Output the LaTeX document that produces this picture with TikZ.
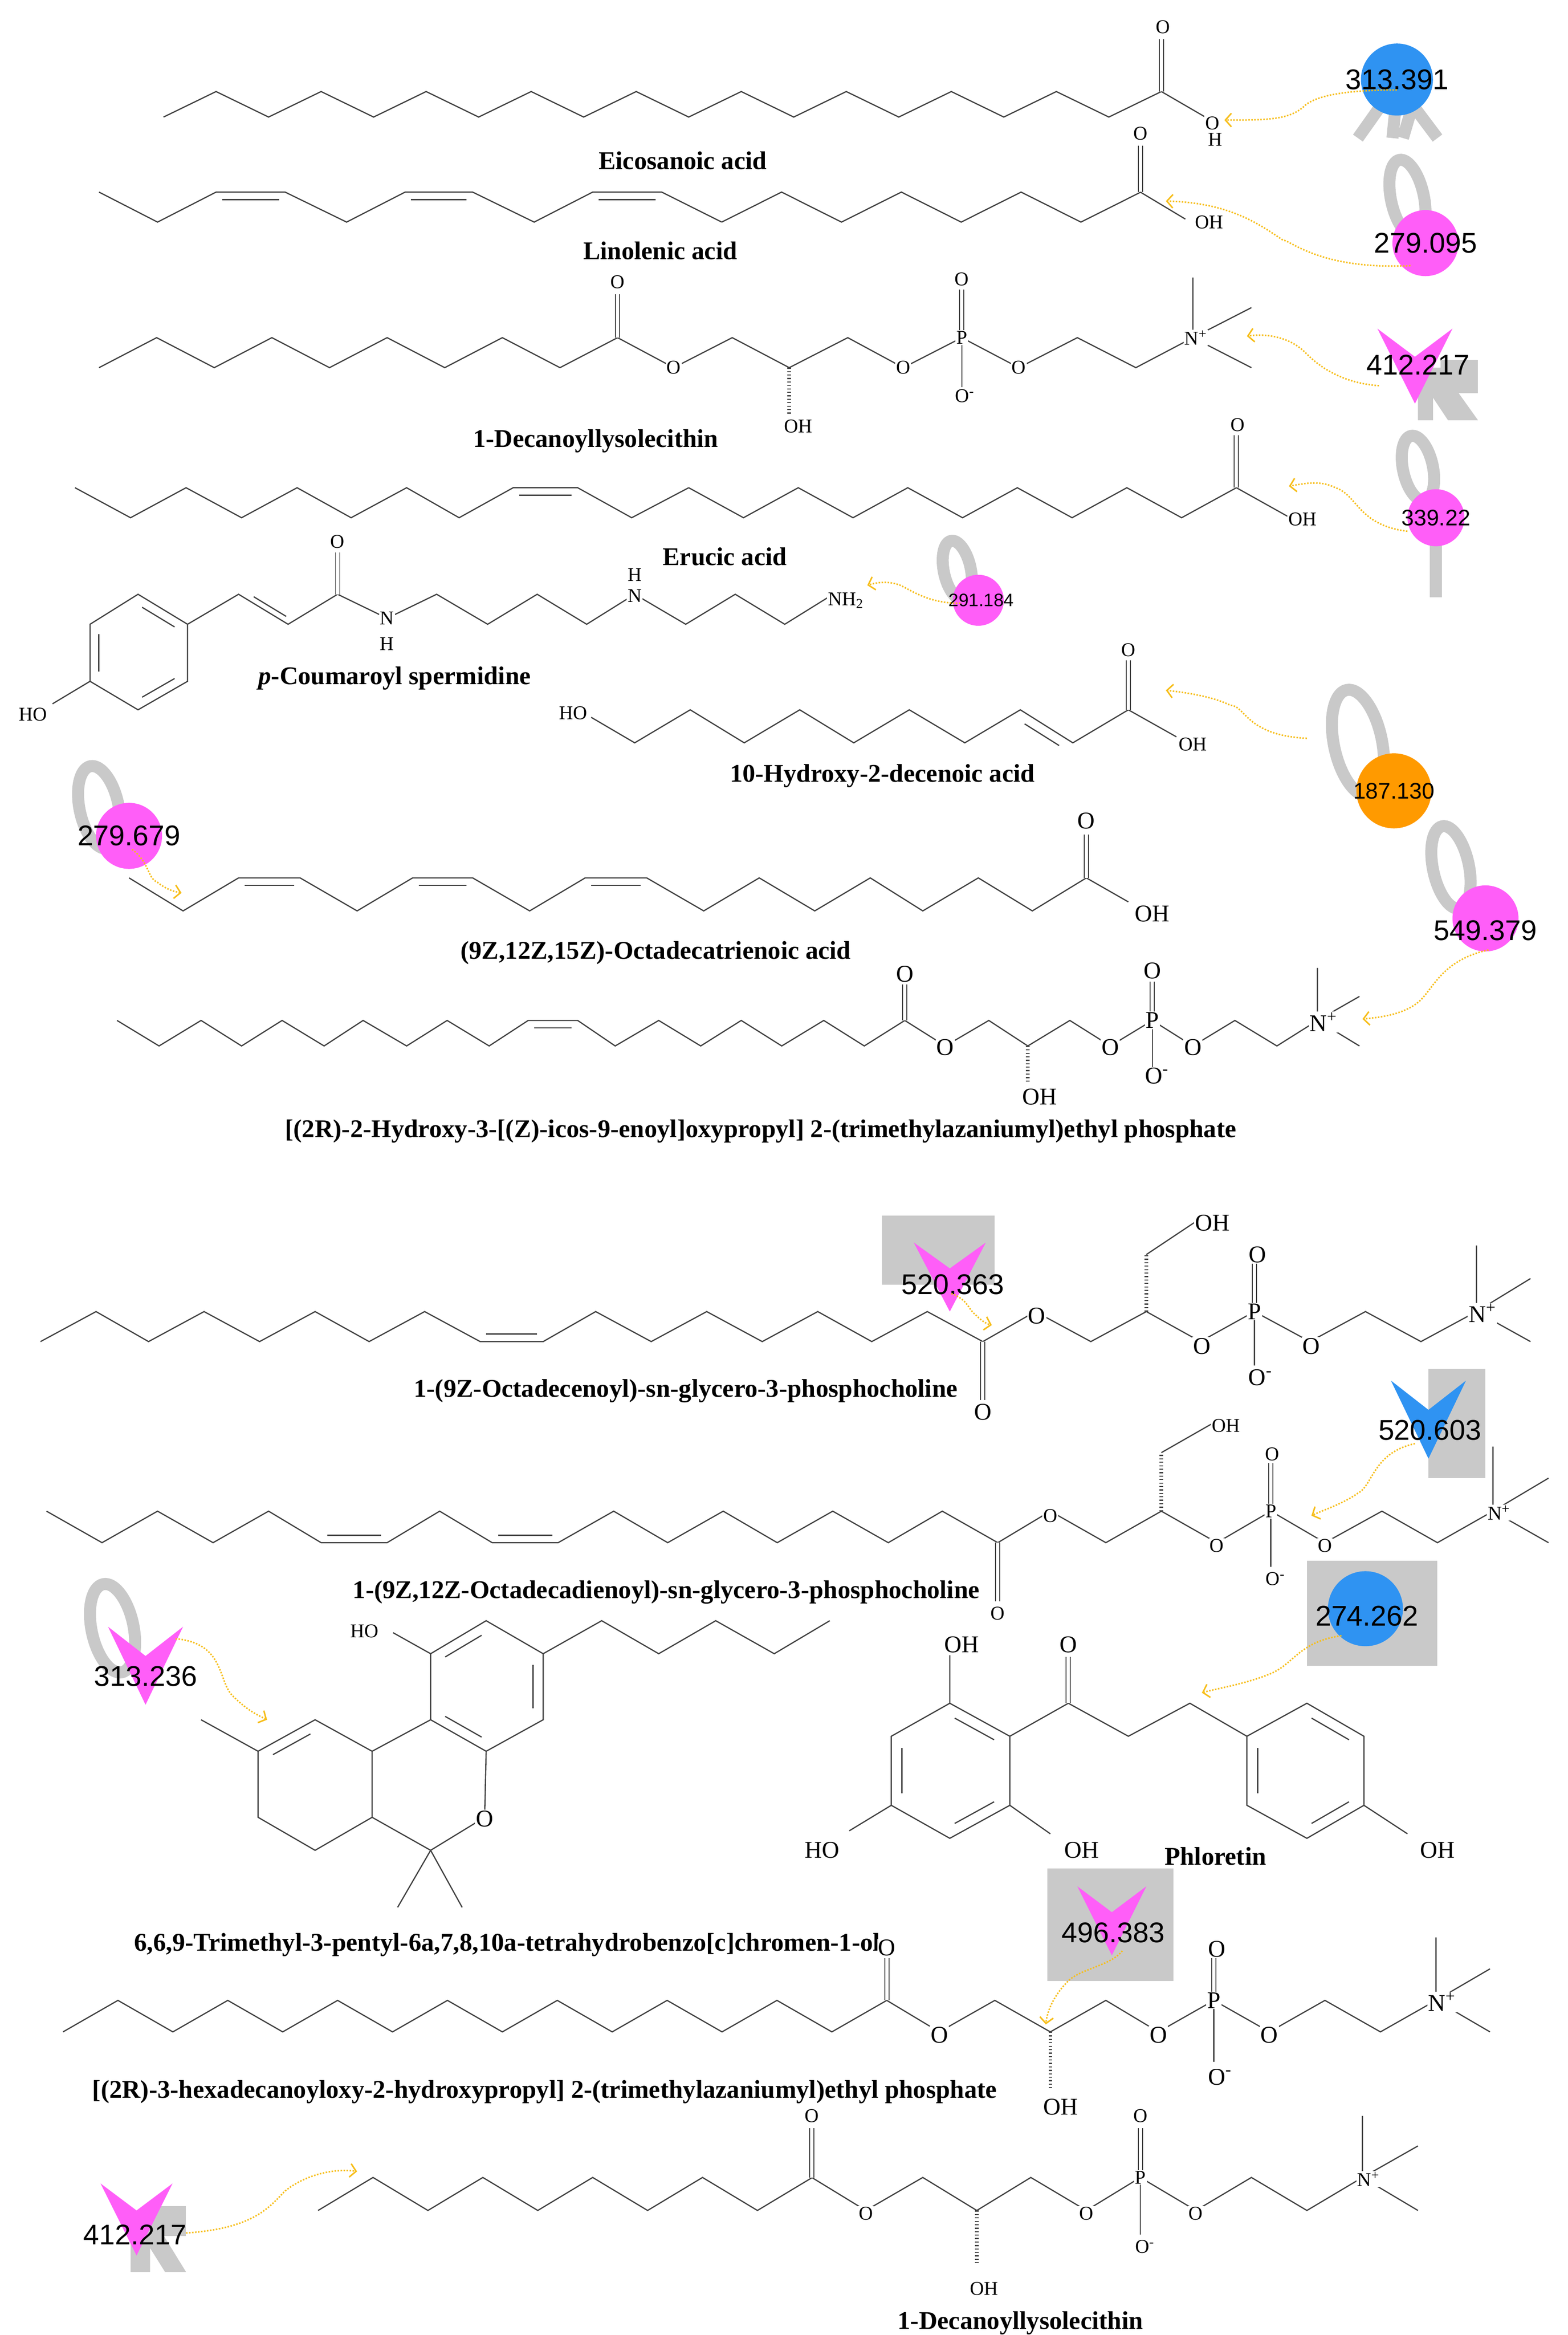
\documentclass[tikz,border=0pt]{standalone}
\usepackage{fontspec}
\setmainfont{Liberation Serif}
\newfontfamily\sansf{Liberation Sans}
\usetikzlibrary{calc,arrows.meta}
\definecolor{mag}{HTML}{FF5EF8}
\definecolor{blu}{HTML}{2F93F2}
\definecolor{org}{HTML}{FF9A00}
\definecolor{gly}{HTML}{C9C9C9}
\definecolor{hlc}{HTML}{F7BE1A}
\tikzset{
 bond/.style={draw=black!75,line width=0.8pt,line join=miter},
 dbl/.style={bond,double,double distance=2.2pt,line width=0.6pt},
 hash/.style={draw=black!75,line width=2.4pt,dash pattern=on 0.7pt off 1.6pt},
 atl/.style={fill=white,inner sep=0.6pt,font=\fontsize{13}{13}\selectfont},
 atlb/.style={atl,font=\fontsize{16}{16}\selectfont},
 nm/.style={font=\bfseries\fontsize{17}{17}\selectfont,inner sep=0pt},
 num/.style={font=\sansf\fontsize{19}{19}\selectfont,inner sep=0pt},
 gl/.style={draw=gly,line width=8pt},
 hl/.style={draw=hlc,line width=1pt,densely dotted,-{Straight Barb[length=4pt,width=9pt]}}
}
\newcommand\zz[5]{\draw[bond] (#1,#2) \foreach \i in {1,...,#5}{ -- ++(#3,{#4*(1-2*mod(\i+1,2))})};}
\newcommand\hdb[4]{\draw[bond] ({#1+4},{#3+#4}) -- ({#2-4},{#3+#4});}
\newcommand\rin[3]{\path ($(#1)!0.18!(#3)$) coordinate (ra) ($(#2)!0.18!(#3)$) coordinate (rb); \draw[bond] ($(ra)!0.1!(rb)$) -- ($(rb)!0.1!(ra)$);}
\newcommand\chev[5]{\fill[#5] ({#1-#3/2},{#2-#4/2}) -- (#1,{#2-#4/8}) -- ({#1+#3/2},{#2-#4/2}) -- (#1,{#2+#4/2}) -- cycle;}
\newcommand\gloop[4]{\draw[gl,rotate around={12:(#1,#2)}] (#1,#2) ellipse (#3 and #4);}
\newcommand\Om{O\textsuperscript{-}}
\newcommand\Np{N\textsuperscript{+}}
\begin{document}
\begin{tikzpicture}[x=1pt,y=-1pt]
\useasboundingbox[fill=white] (0,0) rectangle (1045,1556);

% ---------- 1 Eicosanoic acid
\zz{109}{78}{35}{-17}{19}
\draw[dbl] (774,61)--(774,26); \draw[bond] (774,61)--(805,79);
\node[atl] (m1o) at (775,18) {O}; \node[atl] (m1oh) at (808,82) {O}; \node[atl] at (810,93) {H};
\node[nm] (n1) at (455,107) {Eicosanoic acid};
\draw[gl] (905,92)--(922,68) (958,92)--(940,68) (928,92)--(930,72) (935,92)--(940,75);
\fill[blu] (931,53) circle (24);
\node[num] (b1) at (931,53) {313.391};
\coordinate (t1) at (816,80);
\draw[hl] (b1.south) .. controls (905,60) and (880,62) .. (870,70) .. controls (860,80) and (845,80) .. (t1);

% ---------- 2 Linolenic acid
\draw[bond] (66,128)--(105,148)--(144,128)--(190,128)--(231,148)--(270,128)--(315,128)--(356,148)--(395,128)--(441,128)--(481,148);
\zz{481}{148}{39.9}{-20}{7}
\hdb{144}{190}{128}{5} \hdb{270}{315}{128}{5} \hdb{395}{441}{128}{5}
\draw[dbl] (760,128)--(760,97); \draw[bond] (760,128)--(790,146);
\node[atl] at (760,89) {O}; \node[atl] at (806,148) {OH};
\node[nm] (n2) at (440,167) {Linolenic acid};
\gloop{938}{132}{11}{26}
\fill[mag] (950,162) circle (22);
\node[num] (b2) at (950,162) {279.095};
\coordinate (t2) at (777,134);
\draw[hl] (940,177) .. controls (880,180) and (860,160) .. (855,160) .. controls (840,150) and (820,135) .. (t2);

% ---------- 3 1-Decanoyllysolecithin
\zz{66}{245}{38.4}{-20}{9}
\draw[bond] (411.6,225)--(449,245)--(488,225)--(526,245)--(565,225)--(602,245)--(641,225)--(679,245)--(718,225)--(757,245)--(795,225);
\draw[dbl] (411.6,225)--(411.6,196); \draw[dbl] (641,225)--(641,193); \draw[bond] (641,225)--(641,258);
\draw[hash] (526,245)--(526,276);
\draw[bond] (795,225)--(795,185) (795,225)--(834,205) (795,225)--(834,245);
\node[atl] at (411.6,188) {O}; \node[atl] at (449,245) {O}; \node[atl] at (602,245) {O}; \node[atl] at (641,225) {P};
\node[atl] at (679,245) {O}; \node[atl] at (641,186) {O}; \node[atl] at (643,264) {\Om};
\node[atl] at (532,284) {OH}; \node[atl] at (797,225) {\Np};
\node[nm] (n3) at (397,294) {1-Decanoyllysolecithin};
\fill[gly] (945,245)--(960,245)--(985,280)--(965,280)--(955,265)--(955,280)--(945,280)--cycle;
\fill[gly] (960,240) rectangle (985,262);
\chev{943}{244}{50}{50}{mag}
\node[num] (b3) at (945,243) {412.217};
\coordinate (t3) at (831,224);
\draw[hl] (919,257) .. controls (890,255) and (875,240) .. (870,235) .. controls (860,225) and (845,222) .. (t3);

% ---------- 4 Erucic acid
\draw[bond] (50,325)--(87,345)--(124,325)--(161,345)--(198,325)--(234,345)--(271,325)--(306,345)--(342,325)--(385,325)--(421,345)--(459,325);
\zz{459}{325}{36.5}{20}{10}
\hdb{342}{385}{325}{5}
\draw[dbl] (824,325)--(824,290); \draw[bond] (824,325)--(858,344);
\node[atl] at (825,283) {O}; \node[atl] at (868,346) {OH};
\node[nm] (n4) at (483,371) {Erucic acid};
\gloop{945}{312}{10}{22}
\draw[gl] (957,360)--(957,398);
\fill[mag] (957,345) circle (19);
\node[num,font=\sansf\fontsize{15}{15}\selectfont] (b4) at (957,345) {339.22};
\coordinate (t4) at (859,324);
\draw[hl] (938,354) .. controls (905,350) and (905,330) .. (890,325) .. controls (880,320) and (870,322) .. (t4);

% ---------- 5 p-Coumaroyl spermidine
\draw[bond] (92,396)--(125,416)--(125,454)--(92,473)--(60,454)--(60,416)--cycle;
\rin{92,396}{125,416}{92,435} \rin{125,454}{92,473}{92,435} \rin{60,416}{60,454}{92,435}
\draw[bond] (60,454)--(35,469);
\draw[bond] (125,416)--(159,396)--(192,416)--(225,396)--(258,412)--(291,396)--(325,416)--(358,396)--(391,416)--(423,396)--(457,416)--(490,396)--(523,416)--(552,398);
\rin{159,396}{192,416}{200,396}
\draw[dbl] (225,396)--(225,368);
\node[atl] at (22,476) {HO}; \node[atl] at (225,361) {O};
\node[atl] at (258,412) {N}; \node[atl] at (258,429) {H};
\node[atl] at (423,397) {N}; \node[atl] at (423,383) {H};
\node[atl,anchor=west] at (551,400) {NH\textsubscript{2}};
\node[nm] (n5) at (263,452) {\textit{p}-Coumaroyl spermidine};
\gloop{638}{380}{9}{20}
\fill[mag] (652,400) circle (17);
\node[num,font=\sansf\fontsize{12}{12}\selectfont] (b5) at (654,400) {291.184};
\coordinate (t5) at (578,390);
\draw[hl] (640,402) .. controls (620,402) and (610,395) .. (600,390) .. controls (592,387) and (585,388) .. (t5);

% ---------- 6 10-Hydroxy-2-decenoic acid
\draw[bond] (394,478)--(423,495)--(460,473)--(496,495)--(533,473)--(569,495)--(606,473)--(643,495)--(680,473)--(715,495)--(752,473)--(784,491);
\rin{680,473}{715,495}{680,515}
\draw[dbl] (752,473)--(752,440);
\node[atl] at (382,475) {HO}; \node[atl] at (752,433) {O}; \node[atl] at (795,496) {OH};
\node[nm] (n6) at (588,517) {10-Hydroxy-2-decenoic acid};
\gloop{905}{495}{16}{36}
\fill[org] (929,527) circle (25);
\node[num,font=\sansf\fontsize{15}{15}\selectfont] (b6) at (929,527) {187.130};
\coordinate (t6) at (777,460);
\draw[hl] (871,492) .. controls (830,490) and (830,470) .. (820,470) .. controls (810,465) and (795,462) .. (t6);

% ---------- 7 Octadecatrienoic acid
\draw[bond] (86,585)--(122,607)--(159,585)--(200,585)--(238,607)--(275,585)--(315,585)--(353,607)--(390,585)--(431,585)--(469,607)--(506,585)--(543,607)--(580,585)--(615,607)--(652,585)--(688,607)--(724,585)--(752,601);
\hdb{159}{200}{585}{5} \hdb{275}{315}{585}{5} \hdb{390}{431}{585}{5}
\draw[dbl] (724,585)--(724,556);
\node[atlb] at (724,547) {O}; \node[atlb] at (768,609) {OH};
\node[nm] (n7) at (437,635) {(9Z,12Z,15Z)-Octadecatrienoic acid};
\gloop{66}{538}{13}{28}
\fill[mag] (86,557) circle (22);
\node[num] (b7) at (86,557) {279.679};
\coordinate (t7) at (121,595);
\draw[hl] (88,566) .. controls (100,575) and (98,585) .. (105,588) .. controls (110,592) and (115,594) .. (t7);

% ---------- 8 icos-9-enoyl PC
\draw[bond] (78,680)--(106,697)--(134,680)--(161,697)--(188,680)--(216,697)--(242,680)--(271,697)--(298,680)--(326,697)--(352,680)--(385,680)--(410,697)--(439,680)--(467,697)--(494,680)--(521,697)--(549,680)--(576,697)--(603,680)--(630,697)--(659,680)--(685,697)--(713,680)--(740,697)--(768,680)--(795,697)--(823,680)--(851,697)--(878,680);
\hdb{352}{385}{680}{5}
\draw[dbl] (603,680)--(603,656); \draw[dbl] (768,680)--(768,654); \draw[bond] (768,680)--(768,712);
\draw[hash] (685,697)--(685,722);
\draw[bond] (878,680)--(878,645) (878,680)--(906,664) (878,680)--(906,697);
\node[atlb] at (603,649) {O}; \node[atlb] at (630,698) {O}; \node[atlb] at (740,698) {O}; \node[atlb] at (768,680) {P};
\node[atlb] at (795,698) {O}; \node[atlb] at (768,647) {O}; \node[atlb] at (771,717) {\Om};
\node[atlb] at (693,731) {OH}; \node[atlb] at (882,681) {\Np};
\node[nm] (n8) at (507,754) {[(2R)-2-Hydroxy-3-[(Z)-icos-9-enoyl]oxypropyl] 2-(trimethylazaniumyl)ethyl phosphate};
\gloop{967}{578}{12}{28}
\fill[mag] (990,612) circle (22);
\node[num] (b8) at (990,620) {549.379};
\coordinate (t8) at (908,679);
\draw[hl] (992,633) .. controls (960,640) and (955,660) .. (945,668) .. controls (935,676) and (920,678) .. (t8);

% ---------- 9 1-(9Z-Octadecenoyl)-sn-glycero-3-phosphocholine
\draw[bond] (27,894)--(64,874)--(99,894)--(136,874)--(173,894)--(210,874)--(246,894)--(283,874)--(320,894)--(362,894)--(397,874)--(434,894)--(471,874)--(508,894)--(545,874)--(581,894)--(618,874)--(655,894)--(690,874)--(727,894)--(764,874)--(800,894)--(836,874)--(873,894)--(910,874)--(947,894)--(984,874);
\hdb{320}{362}{894}{-5}
\draw[dbl] (655,894)--(655,933);
\draw[hash] (764,874)--(764,836); \draw[bond] (764,836)--(800,812);
\draw[dbl] (836,874)--(836,842); \draw[bond] (836,874)--(836,910);
\draw[bond] (984,874)--(984,830) (984,874)--(1020,852) (984,874)--(1020,894);
\node[atlb] at (655,941) {O}; \node[atlb] at (691,877) {O}; \node[atlb] at (801,897) {O}; \node[atlb] at (836,874) {P};
\node[atlb] at (874,897) {O}; \node[atlb] at (838,836) {O}; \node[atlb] at (840,918) {\Om};
\node[atlb] at (808,815) {OH}; \node[atlb] at (988,875) {\Np};
\node[nm] (n9) at (457,927) {1-(9Z-Octadecenoyl)-sn-glycero-3-phosphocholine};
\fill[gly] (588,810) rectangle (663,856);
\chev{633}{851}{48}{46}{mag}
\node[num] (b9) at (635,856) {520.363};
\coordinate (t9) at (661,883);
\draw[hl] (634,862) .. controls (645,866) and (645,872) .. (650,876) .. controls (654,880) and (657,882) .. (t9);

% ---------- 10 1-(9Z,12Z-Octadecadienoyl)-sn-glycero-3-phosphocholine
\draw[bond] (31,1007)--(68,1028)--(105,1007)--(142,1028)--(179,1007)--(214,1028)--(258,1028)--(293,1007)--(328,1028)--(372,1028)--(409,1007)--(445,1028)--(482,1007)--(518,1028)--(555,1007)--(592,1028)--(628,1007)--(665,1028)--(700,1007)--(737,1028)--(774,1007)--(811,1028)--(847,1007)--(883,1028)--(921,1007)--(958,1028)--(995,1007);
\hdb{214}{258}{1028}{-5} \hdb{328}{372}{1028}{-5}
\draw[dbl] (665,1028)--(665,1067);
\draw[hash] (774,1007)--(774,968); \draw[bond] (774,968)--(809,948);
\draw[dbl] (847,1007)--(847,975); \draw[bond] (847,1007)--(847,1044);
\draw[bond] (995,1007)--(995,964) (995,1007)--(1032,985) (995,1007)--(1032,1028);
\node[atl] at (665,1075) {O}; \node[atl] at (700,1010) {O}; \node[atl] at (811,1030) {O}; \node[atl] at (847,1007) {P};
\node[atl] at (883,1030) {O}; \node[atl] at (848,969) {O}; \node[atl] at (850,1052) {\Om};
\node[atl] at (817,950) {OH}; \node[atl] at (999,1008) {\Np};
\node[nm] (n10) at (444,1061) {1-(9Z,12Z-Octadecadienoyl)-sn-glycero-3-phosphocholine};
\fill[gly] (952,912) rectangle (990,985);
\chev{952}{946}{50}{52}{blu}
\node[num] (b10) at (953,953) {520.603};
\coordinate (t10) at (874,1010);
\draw[hl] (943,962) .. controls (915,968) and (915,990) .. (905,995) .. controls (895,1002) and (885,1005) .. (t10);

% ---------- 11 THC-like
\draw[bond] (324,1080)--(362,1102)--(362,1146)--(324,1167)--(287,1146)--(287,1102)--cycle;
\rin{287,1102}{324,1080}{324,1124} \rin{362,1102}{362,1146}{324,1124} \rin{287,1146}{324,1167}{324,1124}
\draw[bond] (287,1102)--(262,1088);
\draw[bond] (362,1102)--(401,1080)--(439,1102)--(477,1080)--(516,1102)--(553,1080);
\draw[bond] (287,1146)--(248,1167)--(248,1211)--(210,1233)--(172,1211)--(172,1167)--(210,1146)--(248,1167);
\rin{172,1167}{210,1146}{210,1189}
\draw[bond] (172,1167)--(134,1146);
\draw[bond] (248,1211)--(287,1233)--(323,1211)--(324,1167);
\draw[bond] (287,1233)--(265,1271) (287,1233)--(308,1271);
\node[atl] at (243,1087) {HO}; \node[atlb] at (323,1212) {O};
\node[nm] (n11) at (338,1296) {6,6,9-Trimethyl-3-pentyl-6a,7,8,10a-tetrahydrobenzo[c]chromen-1-ol};
\gloop{75}{1085}{14}{30}
\chev{97}{1110}{50}{52}{mag}
\node[num] (b11) at (97,1117) {313.236};
\coordinate (t11) at (178,1146);
\draw[hl] (117,1092) .. controls (150,1095) and (145,1120) .. (155,1130) .. controls (165,1140) and (172,1143) .. (t11);

% ---------- 12 Phloretin
\draw[bond] (633,1135)--(673,1157)--(673,1203)--(633,1225)--(594,1203)--(594,1157)--cycle;
\rin{633,1135}{673,1157}{633,1180} \rin{594,1157}{594,1203}{633,1180} \rin{673,1203}{633,1225}{633,1180}
\draw[bond] (871,1135)--(909,1157)--(909,1203)--(871,1225)--(831,1203)--(831,1157)--cycle;
\rin{871,1135}{909,1157}{871,1180} \rin{831,1157}{831,1203}{871,1180} \rin{909,1203}{871,1225}{871,1180}
\draw[bond] (633,1135)--(633,1103) (594,1203)--(566,1220) (673,1203)--(700,1222) (909,1203)--(938,1222);
\draw[bond] (673,1157)--(712,1135)--(752,1157)--(793,1135)--(831,1157);
\draw[dbl] (712,1135)--(712,1104);
\node[atlb] at (641,1096) {OH}; \node[atlb] at (712,1096) {O}; \node[atlb] at (548,1233) {HO};
\node[atlb] at (721,1233) {OH}; \node[atlb] at (958,1233) {OH};
\node[nm] (n12) at (810,1237) {Phloretin};
\fill[gly] (871,1040) rectangle (958,1110);
\fill[blu] (910,1072) circle (25);
\node[num] (b12) at (911,1077) {274.262};
\coordinate (t12) at (801,1128);
\draw[hl] (894,1090) .. controls (865,1094) and (862,1110) .. (845,1116) .. controls (830,1122) and (812,1125) .. (t12);

% ---------- 13 hexadecanoyl PC
\zz{42}{1354}{36.6}{-21}{15}
\draw[bond] (591,1333)--(626,1354)--(663,1333)--(700,1354)--(737,1333)--(772,1354)--(809,1333)--(846,1354)--(883,1333)--(920,1354)--(957,1333);
\draw[dbl] (591,1333)--(591,1305);
\draw[hash] (700,1354)--(700,1392);
\draw[dbl] (809,1333)--(809,1305); \draw[bond] (809,1333)--(809,1374);
\draw[bond] (957,1333)--(957,1291) (957,1333)--(993,1312) (957,1333)--(993,1354);
\node[atlb] at (591,1298) {O}; \node[atlb] at (626,1356) {O}; \node[atlb] at (772,1356) {O}; \node[atlb] at (809,1333) {P};
\node[atlb] at (846,1356) {O}; \node[atlb] at (811,1299) {O}; \node[atlb] at (813,1384) {\Om};
\node[atlb] at (707,1404) {OH}; \node[atlb] at (961,1334) {\Np};
\node[nm] (n13) at (363,1394) {[(2R)-3-hexadecanoyloxy-2-hydroxypropyl] 2-(trimethylazaniumyl)ethyl phosphate};
\fill[gly] (698,1245) rectangle (782,1320);
\chev{741}{1280}{46}{46}{mag}
\node[num] (b13) at (742,1288) {496.383};
\coordinate (t13) at (697,1349);
\draw[hl] (748,1300) .. controls (740,1310) and (720,1312) .. (712,1320) .. controls (702,1330) and (698,1340) .. (t13);

% ---------- 14 1-Decanoyllysolecithin
\zz{212}{1473}{36.6}{-22}{9}
\draw[bond] (541,1451)--(577,1473)--(615,1451)--(651,1473)--(687,1451)--(724,1473)--(760,1451)--(797,1473)--(834,1451)--(871,1473)--(908,1451);
\draw[dbl] (541,1451)--(541,1418);
\draw[hash] (651,1473)--(651,1508);
\draw[dbl] (760,1451)--(760,1418); \draw[bond] (760,1451)--(760,1489);
\draw[bond] (908,1451)--(908,1410) (908,1451)--(945,1430) (908,1451)--(945,1473);
\node[atl] at (541,1410) {O}; \node[atl] at (577,1475) {O}; \node[atl] at (724,1475) {O}; \node[atl] at (760,1451) {P};
\node[atl] at (797,1475) {O}; \node[atl] at (760,1410) {O}; \node[atl] at (763,1497) {\Om};
\node[atl] at (656,1525) {OH}; \node[atl] at (912,1452) {\Np};
\node[nm] (n14) at (680,1548) {1-Decanoyllysolecithin};
\fill[gly] (87,1475)--(100,1475)--(124,1514)--(110,1514)--(100,1498)--(100,1514)--(87,1514)--cycle;
\fill[gly] (100,1470) rectangle (124,1490);
\chev{91}{1479}{48}{48}{mag}
\node[num] (b14) at (90,1489) {412.217};
\coordinate (t14) at (238,1447);
\draw[hl] (124,1488) .. controls (170,1485) and (180,1470) .. (190,1460) .. controls (205,1448) and (225,1445) .. (t14);
\end{tikzpicture}
\end{document}
